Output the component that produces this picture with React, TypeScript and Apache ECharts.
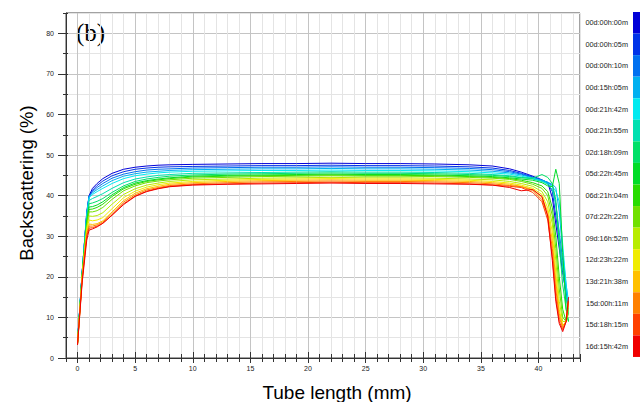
import React, { useEffect, useRef } from 'react';
import * as echarts from 'echarts';

const timeLabels = [
  '00d:00h:00m', '00d:00h:05m', '00d:00h:10m', '00d:15h:05m',
  '00d:21h:42m', '00d:21h:55m', '02d:18h:09m', '05d:22h:45m',
  '06d:21h:04m', '07d:22h:22m', '09d:16h:52m', '12d:23h:22m',
  '13d:21h:38m', '15d:00h:11m', '15d:18h:15m', '16d:15h:42m',
];

const lineColors = [
  '#0000d8', '#0033e8', '#0070f0', '#00b0f0',
  '#00eaf0', '#00e0b0', '#00e068', '#00dc28',
  '#28dc00', '#70e000', '#b8ec00', '#f0ec00',
  '#ffc000', '#ff8000', '#ff4000', '#f00000',
];

// tube length positions (mm)
const xs = [0, 0.4, 0.8, 1, 1.3, 1.7, 2.2, 3, 4, 5, 6, 7, 8, 10, 13, 16, 19, 22, 25, 28, 31, 34, 36, 37.5, 38.5, 39.5, 40.3, 40.8, 41.2, 41.5, 41.8, 42.1, 42.4, 42.6];

const s01 = [4.0, 21, 36, 40.0, 41.8, 43.0, 44.2, 45.5, 46.5, 47.0, 47.3, 47.5, 47.6, 47.7, 47.8, 47.9, 47.9, 48.0, 47.9, 47.9, 47.8, 47.6, 47.3, 46.6, 45.8, 44.8, 43.9, 43.2, 39.5, 33, 27, 21, 16, 14];
const s02 = [3.9, 21, 35.5, 39.8, 41.3, 42.5, 43.6, 44.9, 45.9, 46.5, 46.8, 47.0, 47.1, 47.2, 47.3, 47.4, 47.4, 47.5, 47.4, 47.4, 47.3, 47.1, 46.8, 46.2, 45.5, 44.6, 43.8, 43.1, 41.0, 35, 29, 22, 15, 12];
const s03 = [3.9, 21, 35.5, 39.8, 41.0, 42.0, 43.0, 44.3, 45.3, 45.9, 46.3, 46.5, 46.6, 46.8, 46.9, 47.0, 47.0, 47.1, 47.0, 47.0, 46.9, 46.7, 46.4, 45.9, 45.3, 44.5, 43.8, 43.3, 42.5, 38, 31, 24, 17, 13];
const s04 = [3.8, 21, 35.5, 39.7, 40.7, 41.5, 42.4, 43.7, 44.8, 45.4, 45.8, 46.0, 46.2, 46.4, 46.5, 46.6, 46.6, 46.7, 46.6, 46.6, 46.5, 46.3, 46.0, 45.6, 45.1, 44.4, 43.8, 43.3, 42.8, 42.0, 36, 26, 18, 14];
const s05 = [3.8, 21, 35, 39.5, 40.3, 41.0, 41.8, 43.0, 44.2, 44.9, 45.3, 45.6, 45.8, 46.0, 46.1, 46.2, 46.2, 46.3, 46.2, 46.2, 46.1, 45.9, 45.6, 45.3, 44.8, 44.2, 43.6, 43.0, 42.2, 41.2, 38.5, 28, 18, 13];
const s06 = [3.8, 21, 34.5, 38.8, 39.3, 39.8, 40.5, 41.8, 43.2, 44.1, 44.6, 45.0, 45.2, 45.5, 45.6, 45.7, 45.8, 45.9, 45.8, 45.8, 45.7, 45.5, 45.2, 44.9, 44.5, 44.1, 43.5, 42.8, 41.5, 38, 30, 22, 15, 11];
const s07 = [3.7, 20.5, 34, 38.0, 38.2, 38.6, 39.3, 40.8, 42.4, 43.5, 44.1, 44.5, 44.8, 45.1, 45.3, 45.4, 45.5, 45.6, 45.5, 45.5, 45.4, 45.2, 45.0, 44.7, 44.4, 44.3, 45.2, 44.5, 43.0, 39, 28, 18, 12, 9];
const s08 = [3.7, 20.5, 33.5, 37.2, 37.3, 37.7, 38.5, 40.2, 42.0, 43.1, 43.7, 44.1, 44.4, 44.8, 45.0, 45.1, 45.2, 45.3, 45.2, 45.2, 45.1, 44.9, 44.7, 44.4, 44.1, 43.8, 43.2, 42.4, 42.2, 46.5, 43, 26, 12, 9];
const s09 = [3.6, 20.5, 33, 36.6, 36.7, 37.1, 37.9, 39.8, 41.7, 42.8, 43.5, 43.9, 44.2, 44.6, 44.8, 44.9, 45.0, 45.1, 45.0, 45.0, 44.9, 44.7, 44.5, 44.2, 43.8, 43.2, 42.4, 41.0, 37, 30, 20, 12, 9, 11];
const s10 = [3.6, 20, 32.5, 36.0, 36.0, 36.3, 37.1, 39.1, 41.2, 42.4, 43.2, 43.6, 43.9, 44.3, 44.5, 44.7, 44.8, 44.9, 44.8, 44.8, 44.7, 44.5, 44.3, 44.0, 43.5, 42.8, 41.8, 40.0, 35, 27, 17, 10, 9, 12];
const s11 = [3.5, 20, 32, 35.0, 34.9, 35.1, 35.8, 37.9, 40.3, 41.7, 42.6, 43.1, 43.5, 43.9, 44.1, 44.3, 44.4, 44.5, 44.4, 44.4, 44.3, 44.1, 43.9, 43.5, 43.0, 42.3, 41.0, 38.5, 33, 24, 14, 9, 9, 13];
const s12 = [3.5, 20, 31.5, 34.0, 33.8, 34.0, 34.6, 36.8, 39.5, 41.1, 42.1, 42.7, 43.1, 43.5, 43.8, 44.0, 44.1, 44.2, 44.1, 44.1, 44.0, 43.8, 43.5, 43.1, 42.6, 41.8, 40.3, 37, 31, 21, 12, 8, 9, 14];
const s13 = [3.4, 19.5, 31, 33.0, 32.9, 33.1, 33.8, 36.0, 38.8, 40.6, 41.7, 42.3, 42.8, 43.2, 43.5, 43.7, 43.8, 43.9, 43.8, 43.8, 43.7, 43.5, 43.2, 42.8, 42.3, 41.5, 39.6, 36, 29, 19, 11, 8, 9, 14];
const s14 = [3.3, 19.5, 30.5, 32.5, 32.5, 32.8, 33.5, 35.6, 38.4, 40.2, 41.4, 42.0, 42.5, 42.9, 43.2, 43.4, 43.5, 43.6, 43.5, 43.5, 43.4, 43.2, 42.9, 42.5, 42.2, 41.3, 39.0, 35, 27, 17, 10, 7.5, 9, 14];
const s15 = [3.3, 19, 30, 32.0, 32.1, 32.5, 33.2, 35.2, 38.0, 39.9, 41.1, 41.8, 42.3, 42.7, 42.9, 43.1, 43.2, 43.3, 43.2, 43.2, 43.1, 42.9, 42.6, 42.3, 42.0, 40.8, 38.5, 34, 25, 15, 9, 7, 9, 14];
const s16 = [3.2, 18.5, 29, 31.5, 31.8, 32.3, 33.2, 35.2, 37.8, 39.8, 41.0, 41.7, 42.2, 42.6, 42.8, 42.9, 43.0, 43.1, 43.0, 43.0, 42.9, 42.8, 42.6, 42.0, 41.2, 41.5, 39.8, 35, 24, 14, 8.5, 6.5, 9, 15];

const seriesValues = [s01, s02, s03, s04, s05, s06, s07, s08, s09, s10, s11, s12, s13, s14, s15, s16];

const FONT = '"Liberation Sans", Arial, Helvetica, sans-serif';
const MAJOR = '#c4c4c4';
const MINOR = '#e4e4e4';
const AXIS = '#333333';

export default function App() {
  const ref = useRef<HTMLDivElement>(null);

  useEffect(() => {
    const chart = echarts.init(ref.current as HTMLDivElement, null, { renderer: 'svg' });

    const tickStyle = { color: AXIS, width: 1 };
    const labelStyle = { fontSize: 7, color: '#222', fontFamily: FONT };

    chart.setOption({
      animation: false,
      backgroundColor: '#ffffff',
      grid: [
        { left: 66, right: 60, top: 13, bottom: 44, show: true, borderColor: '#444', borderWidth: 1, backgroundColor: 'transparent' },
        { left: 77.52, right: 101.5, top: 33.3, bottom: 44 },
      ],
      xAxis: [
        {
          gridIndex: 0, type: 'value', position: 'bottom', min: -1, max: 43.6, interval: 1,
          axisLine: { show: true, onZero: false, lineStyle: { color: AXIS, width: 1 } },
          axisTick: { show: true, length: 4, lineStyle: tickStyle },
          axisLabel: { show: false },
          splitLine: { show: true, lineStyle: { color: [MINOR, MAJOR, MINOR, MINOR, MINOR], width: 1 } },
        },
        {
          gridIndex: 0, type: 'value', position: 'bottom', min: -1, max: 43.6, interval: 1,
          axisLine: { show: false, onZero: false },
          axisTick: { show: true, inside: true, length: 4, lineStyle: tickStyle },
          axisLabel: { show: false },
          splitLine: { show: false },
        },
        {
          gridIndex: 1, type: 'value', position: 'bottom', min: 0, max: 40, interval: 5,
          axisLine: { show: false, onZero: false },
          axisTick: { show: true, length: 5, lineStyle: tickStyle },
          axisLabel: { show: true, margin: 7, ...labelStyle },
          splitLine: { show: false },
        },
        {
          gridIndex: 1, type: 'value', position: 'bottom', min: 0, max: 40, interval: 5,
          axisLine: { show: false, onZero: false },
          axisTick: { show: true, inside: true, length: 6, lineStyle: tickStyle },
          axisLabel: { show: false },
          splitLine: { show: false },
        },
      ],
      yAxis: [
        {
          gridIndex: 0, type: 'value', position: 'left', min: 0, max: 85, interval: 5,
          axisLine: { show: true, onZero: false, lineStyle: { color: AXIS, width: 1 } },
          axisTick: { show: true, length: 3, lineStyle: tickStyle },
          axisLabel: { show: false },
          splitLine: { show: true, lineStyle: { color: [MAJOR, MINOR], width: 1 } },
        },
        {
          gridIndex: 0, type: 'value', position: 'left', min: 0, max: 85, interval: 5,
          axisLine: { show: false, onZero: false },
          axisTick: { show: true, inside: true, length: 2, lineStyle: tickStyle },
          axisLabel: { show: false },
          splitLine: { show: false },
        },
        {
          gridIndex: 1, type: 'value', position: 'left', offset: 11.52, min: 0, max: 80, interval: 10,
          axisLine: { show: false, onZero: false },
          axisTick: { show: true, length: 8, lineStyle: tickStyle },
          axisLabel: { show: true, margin: 12, ...labelStyle },
          splitLine: { show: false },
        },
        {
          gridIndex: 1, type: 'value', position: 'left', offset: 11.52, min: 0, max: 80, interval: 10,
          axisLine: { show: false, onZero: false },
          axisTick: { show: true, inside: true, length: 2, lineStyle: tickStyle },
          axisLabel: { show: false },
          splitLine: { show: false },
        },
      ],
      legend: {
        orient: 'vertical', right: 0, top: 12, padding: 0,
        itemWidth: 7, itemHeight: 21.56, itemGap: 0,
        align: 'right', icon: 'rect', selectedMode: false,
        textStyle: { fontSize: 7.3, color: '#222', fontFamily: FONT },
        data: timeLabels,
      },
      graphic: [
        {
          type: 'text', left: 76, top: 20,
          style: { text: '(b)', fontSize: 25, fontFamily: '"Liberation Serif", "Times New Roman", serif', fill: '#000' },
        },
        {
          type: 'text', x: 26, y: 183, rotation: Math.PI / 2,
          style: { text: 'Backscattering (%)', fontSize: 18.5, fontFamily: FONT, fill: '#000', align: 'center', verticalAlign: 'middle' },
        },
        {
          type: 'text', x: 337, y: 392,
          style: { text: 'Tube length (mm)', fontSize: 19, fontFamily: FONT, fill: '#000', align: 'center', verticalAlign: 'middle' },
        },
      ],
      series: seriesValues.map((vals, i) => ({
        type: 'line',
        name: timeLabels[i],
        xAxisIndex: 0,
        yAxisIndex: 0,
        showSymbol: false,
        symbol: 'none',
        color: lineColors[i],
        itemStyle: { color: lineColors[i] },
        lineStyle: { width: 1, color: lineColors[i] },
        data: xs.map((x, j) => [x, vals[j]]),
      })),
    });

    return () => chart.dispose();
  }, []);

  return <div ref={ref} style={{ position: 'fixed', left: 0, top: 0, width: 640, height: 402 }} />;
}
